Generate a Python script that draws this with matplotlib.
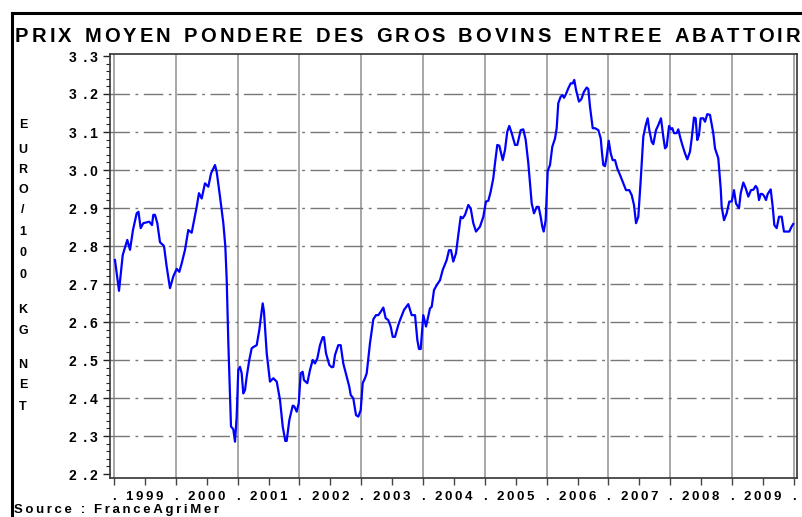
import matplotlib
matplotlib.use('Agg')
import matplotlib.pyplot as plt
import matplotlib.ticker as mtick
from matplotlib.lines import Line2D

FONT = ['Liberation Sans', 'DejaVu Sans']
plt.rcParams['font.family'] = FONT
plt.rcParams['font.weight'] = 'bold'

# weekly price (decimal year, euro / 100 kg net)
years = [
    1999.016, 1999.081, 1999.141, 1999.215, 1999.259, 1999.307, 1999.367, 1999.396, 1999.432, 1999.474,
    1999.571, 1999.615, 1999.636, 1999.663, 1999.701, 1999.744, 1999.809, 1999.853, 1999.906, 1999.960,
    2000.015, 2000.057, 2000.095, 2000.149, 2000.202, 2000.257, 2000.338, 2000.375, 2000.419, 2000.472,
    2000.526, 2000.570, 2000.634, 2000.662, 2000.715, 2000.769, 2000.801, 2000.824, 2000.850, 2000.877,
    2000.893, 2000.930, 2000.958, 2000.985, 2001.011, 2001.039, 2001.066, 2001.092, 2001.120, 2001.147,
    2001.189, 2001.228, 2001.265, 2001.309, 2001.351, 2001.406, 2001.427, 2001.471, 2001.524, 2001.578,
    2001.633, 2001.686, 2001.730, 2001.772, 2001.794, 2001.837, 2001.892, 2001.917, 2001.956, 2001.989,
    2002.021, 2002.053, 2002.074, 2002.128, 2002.172, 2002.215, 2002.252, 2002.290, 2002.333, 2002.377,
    2002.398, 2002.430, 2002.484, 2002.523, 2002.549, 2002.576, 2002.629, 2002.668, 2002.710, 2002.765,
    2002.807, 2002.830, 2002.872, 2002.916, 2002.953, 2002.992, 2003.024, 2003.061, 2003.089, 2003.142,
    2003.196, 2003.239, 2003.277, 2003.316, 2003.358, 2003.396, 2003.438, 2003.477, 2003.510, 2003.547,
    2003.600, 2003.628, 2003.693, 2003.762, 2003.817, 2003.871, 2003.908, 2003.935, 2003.963, 2004.005,
    2004.049, 2004.113, 2004.141, 2004.178, 2004.222, 2004.275, 2004.319, 2004.383, 2004.421, 2004.453,
    2004.490, 2004.534, 2004.571, 2004.610, 2004.642, 2004.680, 2004.733, 2004.772, 2004.814, 2004.858,
    2004.922, 2004.976, 2005.019, 2005.057, 2005.095, 2005.137, 2005.165, 2005.202, 2005.235, 2005.290,
    2005.327, 2005.364, 2005.396, 2005.435, 2005.489, 2005.526, 2005.581, 2005.623, 2005.662, 2005.704,
    2005.731, 2005.759, 2005.796, 2005.840, 2005.872, 2005.904, 2005.930, 2005.953, 2005.985, 2006.018,
    2006.055, 2006.092, 2006.136, 2006.163, 2006.189, 2006.228, 2006.260, 2006.282, 2006.314, 2006.351,
    2006.390, 2006.422, 2006.448, 2006.476, 2006.524, 2006.561, 2006.605, 2006.649, 2006.675, 2006.702,
    2006.746, 2006.783, 2006.837, 2006.876, 2006.892, 2006.917, 2006.945, 2006.972, 2007.005, 2007.037,
    2007.069, 2007.107, 2007.144, 2007.188, 2007.241, 2007.285, 2007.338, 2007.377, 2007.414, 2007.447,
    2007.484, 2007.523, 2007.565, 2007.604, 2007.636, 2007.662, 2007.701, 2007.727, 2007.770, 2007.807,
    2007.851, 2007.888, 2007.916, 2007.943, 2007.981, 2008.013, 2008.034, 2008.061, 2008.105, 2008.131,
    2008.158, 2008.196, 2008.239, 2008.277, 2008.320, 2008.348, 2008.385, 2008.412, 2008.438, 2008.466,
    2008.493, 2008.536, 2008.563, 2008.600, 2008.644, 2008.697, 2008.725, 2008.778, 2008.817, 2008.833,
    2008.871, 2008.914, 2008.956, 2008.995, 2009.032, 2009.065, 2009.113, 2009.141, 2009.183, 2009.222,
    2009.264, 2009.307, 2009.345, 2009.383, 2009.409, 2009.437, 2009.464, 2009.490, 2009.518, 2009.550,
    2009.578, 2009.626, 2009.659, 2009.685, 2009.723, 2009.761, 2009.804, 2009.841, 2009.927, 2009.964,
    2009.991,
]
prices = [
    2.763, 2.682, 2.776, 2.816, 2.790, 2.842, 2.886, 2.890, 2.847, 2.860,
    2.864, 2.855, 2.882, 2.882, 2.860, 2.810, 2.800, 2.745, 2.689, 2.720,
    2.740, 2.732, 2.754, 2.790, 2.842, 2.835, 2.903, 2.939, 2.925, 2.965,
    2.956, 2.991, 3.013, 2.995, 2.930, 2.860, 2.800, 2.710, 2.545, 2.403,
    2.325, 2.318, 2.285, 2.351, 2.474, 2.482, 2.465, 2.412, 2.421, 2.456,
    2.500, 2.531, 2.535, 2.539, 2.579, 2.649, 2.627, 2.518, 2.443, 2.452,
    2.443, 2.395, 2.325, 2.287, 2.287, 2.342, 2.380, 2.378, 2.364, 2.386,
    2.465, 2.469, 2.447, 2.439, 2.474, 2.500, 2.491, 2.504, 2.539, 2.560,
    2.560, 2.518, 2.487, 2.481, 2.482, 2.513, 2.539, 2.539, 2.491, 2.456,
    2.430, 2.408, 2.399, 2.355, 2.351, 2.368, 2.439, 2.452, 2.465, 2.544,
    2.607, 2.618, 2.618, 2.627, 2.638, 2.610, 2.605, 2.588, 2.561, 2.561,
    2.592, 2.605, 2.632, 2.647, 2.618, 2.618, 2.553, 2.529, 2.529, 2.618,
    2.588, 2.636, 2.640, 2.684, 2.697, 2.710, 2.737, 2.763, 2.789, 2.789,
    2.759, 2.781, 2.829, 2.877, 2.873, 2.882, 2.908, 2.899, 2.860, 2.838,
    2.851, 2.877, 2.917, 2.919, 2.943, 2.978, 3.018, 3.066, 3.064, 3.026,
    3.053, 3.101, 3.116, 3.097, 3.066, 3.066, 3.105, 3.107, 3.079, 3.018,
    2.965, 2.912, 2.886, 2.903, 2.903, 2.877, 2.851, 2.838, 2.868, 2.998,
    3.013, 3.061, 3.083, 3.110, 3.176, 3.193, 3.197, 3.190, 3.200, 3.215,
    3.228, 3.228, 3.237, 3.211, 3.180, 3.186, 3.206, 3.217, 3.213, 3.167,
    3.110, 3.110, 3.105, 3.083, 3.053, 3.013, 3.010, 3.035, 3.077, 3.044,
    3.026, 3.026, 3.004, 2.987, 2.965, 2.947, 2.947, 2.934, 2.908, 2.860,
    2.877, 2.974, 3.088, 3.118, 3.136, 3.105, 3.074, 3.068, 3.105, 3.118,
    3.136, 3.088, 3.057, 3.062, 3.116, 3.107, 3.110, 3.097, 3.097, 3.107,
    3.088, 3.066, 3.044, 3.028, 3.048, 3.083, 3.138, 3.136, 3.079, 3.092,
    3.136, 3.136, 3.127, 3.147, 3.145, 3.097, 3.057, 3.031, 2.952, 2.903,
    2.868, 2.886, 2.917, 2.917, 2.947, 2.912, 2.899, 2.939, 2.967, 2.952,
    2.930, 2.947, 2.948, 2.958, 2.952, 2.921, 2.937, 2.937, 2.932, 2.921,
    2.937, 2.949, 2.903, 2.855, 2.847, 2.877, 2.877, 2.838, 2.838, 2.851,
    2.858,
]

year_labels = [str(y) for y in range(1999, 2010)]
y_ticks = [2.2, 2.3, 2.4, 2.5, 2.6, 2.7, 2.8, 2.9, 3.0, 3.1, 3.2, 3.3]
title = 'PRIX MOYEN PONDERE DES GROS BOVINS ENTREE ABATTOIR'
ylabel_words = ['EURO/100', 'KG', 'NET']
source = 'Source : FranceAgriMer'


def spaced(s, sep='\u200a'):
    return sep.join(s)


W, H = 803, 517
fig = plt.figure(figsize=(W / 100, H / 100), dpi=100)
ax = fig.add_axes([110 / W, 1 - 478 / H, 687 / W, 424 / H])

ax.plot(years, prices, color='#0000ff', linewidth=1.6, zorder=3)

ax.set_xlim(1999 - 4 / 61.8, 2010 + 3.2 / 61.8)
ax.set_ylim(2.2 - 4 / 380, 3.3 + 2 / 380)

# grid: solid verticals at year starts, dash-dot horizontals
for yr in range(1999, 2011):
    ax.axvline(yr, color='#a0a0a0', linewidth=1.3, zorder=1)
for v in y_ticks[1:-1]:
    ax.axhline(v, color='#777777', linewidth=1.0, linestyle=(0, (14, 4, 2, 4)), zorder=1)

# x ticks at every half year: '.' at year boundaries, year in the middle
xt = []
xl = []
for i, lab in enumerate(year_labels):
    xt += [1999 + i, 1999.5 + i]
    xl += ['.', spaced(lab, '\u2009')]
xt.append(2010)
xl.append('.')
ax.set_xticks(xt)
ax.set_xticklabels(xl, fontsize=9.5, fontweight='bold')
ax.tick_params(axis='x', length=5, width=1, color='#444444', pad=4)

ax.set_yticks(y_ticks)
ax.set_yticklabels(['{} \u2009.\u2009{}'.format(*('%.1f' % v).split('.')) for v in y_ticks],
                   fontsize=10, fontweight='bold')
ax.yaxis.set_minor_locator(mtick.MultipleLocator(0.02))
ax.tick_params(axis='y', which='major', length=5, width=1, color='#222222', pad=4)
ax.tick_params(axis='y', which='minor', length=3, width=0.8, color='#222222')

for side in ['top', 'right', 'left', 'bottom']:
    ax.spines[side].set_color('#333333')
    ax.spines[side].set_linewidth(1.2)

# title: letters placed one by one so it spans x=15..800 like the original
renderer = fig.canvas.get_renderer()
title_y = 1 - 36 / H
space_w = 7.0
chars = []
widths = []
for ch in title:
    t = fig.text(0, title_y, ch, fontsize=14.5, fontweight='bold', ha='left', va='center')
    w = space_w if ch == ' ' else t.get_window_extent(renderer).width
    chars.append(t)
    widths.append(w)
extra = (785 - sum(widths)) / (len(title) - 1)
x = 15.0
for t, w in zip(chars, widths):
    t.set_x(x / W)
    x += w + extra

# vertical letter-stacked y label
letter_y = [125, 150, 170, 190, 210, 232, 253, 275, 310, 331, 365, 385, 407]
letters = ''.join(ylabel_words)
for ch, py in zip(letters, letter_y):
    fig.text(23 / W, 1 - py / H, ch, fontsize=9, fontweight='bold', ha='center', va='center')

# source line at the very bottom
fig.text(14 / W, 1 - 510 / H, spaced(source, '\u2009'), fontsize=9.5, fontweight='bold',
         ha='left', va='center')

# outer frame, top and left edges
fig.add_artist(Line2D([12 / W, 12 / W], [0, 1 - 13 / H], color='black', linewidth=2.2))
fig.add_artist(Line2D([12 / W, 1], [1 - 13 / H, 1 - 13 / H], color='black', linewidth=2.2))

plt.savefig('out.png', dpi=100)
